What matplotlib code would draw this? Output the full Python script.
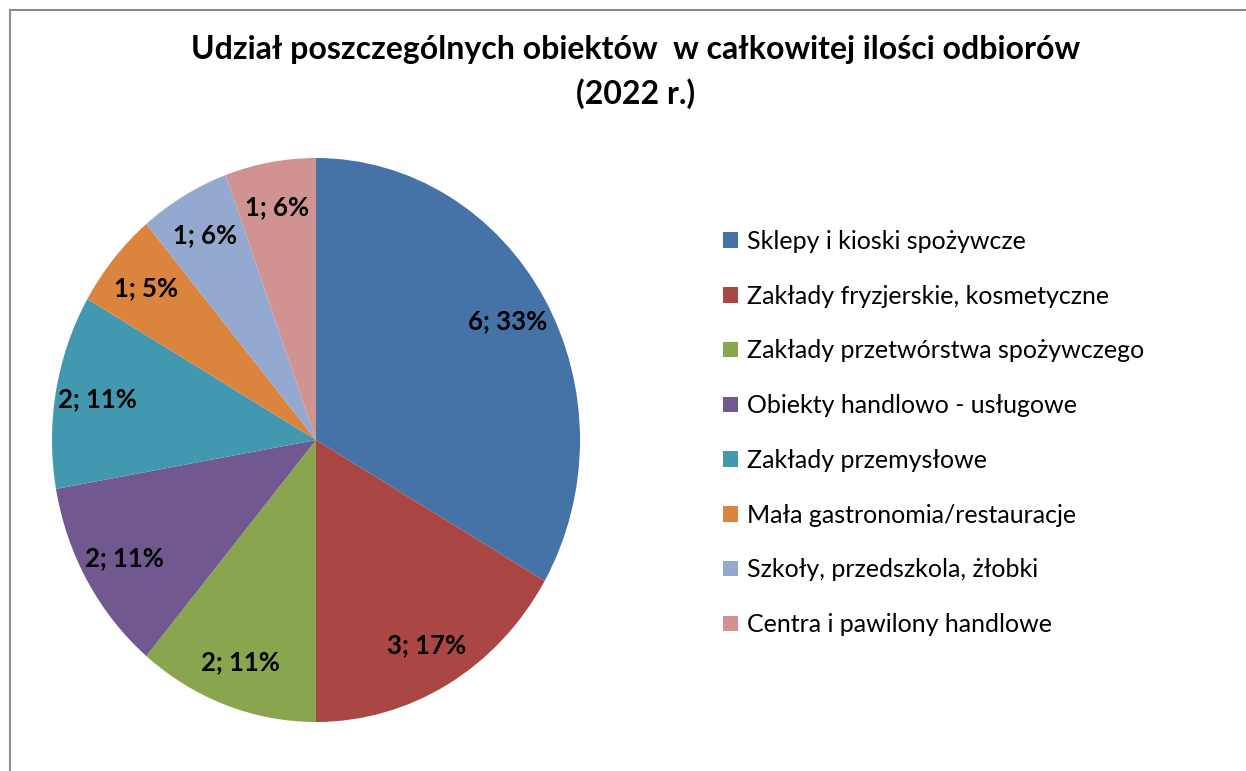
import matplotlib
matplotlib.use("Agg")
import matplotlib.pyplot as plt
import numpy as np
from matplotlib.lines import Line2D

plt.rcParams['font.family'] = ['Lato', 'DejaVu Sans']

# Data
categories = [
    'Sklepy i kioski spożywcze',
    'Zakłady fryzjerskie, kosmetyczne',
    'Zakłady przetwórstwa spożywczego',
    'Obiekty handlowo - usługowe',
    'Zakłady przemysłowe',
    'Mała gastronomia/restauracje',
    'Szkoły, przedszkola, żłobki',
    'Centra i pawilony handlowe',
]
values = [6, 3, 2, 2, 2, 1, 1, 1]
data_labels = ['6; 33%', '3; 17%', '2; 11%', '2; 11%', '2; 11%', '1; 5%', '1; 6%', '1; 6%']

colors = ['#4572A7', '#AA4643', '#89A54E', '#71588F',
          '#4198AF', '#DB843D', '#93A9CF', '#D19392']

W, H = 1246, 771
fig = plt.figure(figsize=(W / 100, H / 100), dpi=100)

# pie area (slightly stretched vertically like the original)
cx, cy, rx, ry = 316, 440, 264, 282
ax = fig.add_axes([(cx - rx) / W, 1 - (cy + ry) / H, 2 * rx / W, 2 * ry / H])
wedges, _ = ax.pie(values, colors=colors, startangle=90, counterclock=False,
                   wedgeprops=dict(linewidth=0))
ax.set_aspect('auto')
ax.set_xlim(-1, 1)
ax.set_ylim(-1, 1)

# data labels inside slices
for w, txt in zip(wedges, data_labels):
    mid = np.deg2rad((w.theta1 + w.theta2) / 2)
    ax.text(0.84 * np.cos(mid), 0.84 * np.sin(mid), txt, ha='center', va='center',
            fontsize=18.5, fontweight='bold', color='black')

# title
fig.text(0.51, 1 - 72 / H, 'Udział poszczególnych obiektów  w całkowitej ilości odbiorów\n(2022 r.)',
         ha='center', va='center', fontsize=23, fontweight='bold', linespacing=1.55)

# legend
fig.legend(wedges, categories, loc='center left', bbox_to_anchor=(723 / W, 1 - 433 / H),
           frameon=False, fontsize=18, borderaxespad=0, borderpad=0,
           handlelength=0.58, handleheight=0.58, handletextpad=0.38, labelspacing=1.27)

# chart-area border (cropped at right and bottom)
fig.add_artist(Line2D([10 / W, 10 / W], [0, 1 - 10 / H], transform=fig.transFigure,
                      color='#8c8c8c', lw=1.5))
fig.add_artist(Line2D([10 / W, 1], [1 - 10 / H, 1 - 10 / H], transform=fig.transFigure,
                      color='#8c8c8c', lw=1.5))

fig.savefig('out.png', dpi=100, facecolor='white')
